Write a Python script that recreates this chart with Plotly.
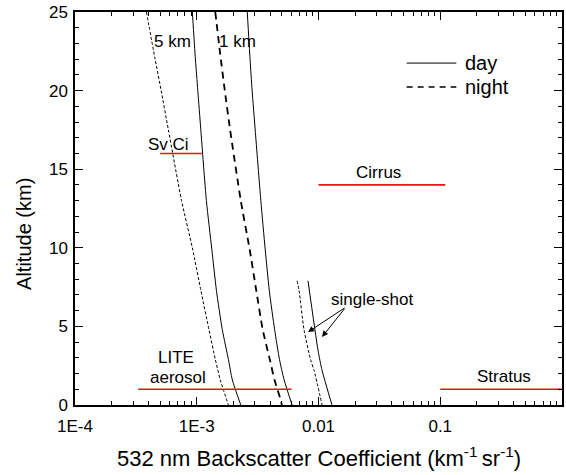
import plotly.graph_objects as go

# ---- data (altitude km, backscatter km^-1 sr^-1) ----
alt_5km_night = [25, 22, 20, 17.5, 13, 10, 7.3, 4.8, 2.9, 1.6, 0]
val_5km_night = [3.86e-4, 4.55e-4, 5.10e-4, 5.85e-4, 7.5e-4, 9.2e-4, 1.08e-3, 1.26e-3, 1.42e-3, 1.56e-3, 1.82e-3]

alt_5km_day = [25, 22, 20, 17.5, 13, 9.9, 7.3, 4.8, 2.9, 1.6, 0]
val_5km_day = [9.2e-4, 9.75e-4, 1.02e-3, 1.08e-3, 1.20e-3, 1.33e-3, 1.45e-3, 1.62e-3, 1.82e-3, 1.96e-3, 2.30e-3]

alt_1km_night = [25, 22.3, 20, 17.5, 13, 9.9, 7.3, 4.8, 2.9, 1.6, 0.3, 0]
val_1km_night = [1.42e-3, 1.56e-3, 1.70e-3, 1.88e-3, 2.30e-3, 2.72e-3, 3.08e-3, 3.48e-3, 3.98e-3, 4.35e-3, 4.90e-3, 5.0e-3]

alt_1km_day = [25, 22, 20, 17.5, 13, 9.9, 7.3, 4.8, 2.9, 1.6, 0]
val_1km_day = [2.60e-3, 2.74e-3, 2.85e-3, 3.02e-3, 3.36e-3, 3.65e-3, 3.94e-3, 4.36e-3, 4.78e-3, 5.22e-3, 6.07e-3]

alt_ss_night = [7.9, 7.3, 4.8, 2.9, 2.2, 0]
val_ss_night = [6.67e-3, 6.92e-3, 7.60e-3, 8.6e-3, 9.2e-3, 1.07e-2]

alt_ss_day = [7.9, 3.5, 2.2, 0]
val_ss_day = [8.2e-3, 9.9e-3, 1.07e-2, 1.29e-2]

# cloud/aerosol reference segments: name, altitude, x start, x end
seg_names = ["Sv Ci", "Cirrus", "LITE aerosol", "Stratus"]
seg_alt = [16, 14, 1, 1]
seg_x0 = [5.0e-4, 0.01, 3.3e-4, 0.1]
seg_x1 = [1.1e-3, 0.11, 6.0e-3, 1.0]

xtick_vals = [1e-4, 1e-3, 1e-2, 1e-1, 1]
xtick_text = ["1E-4", "1E-3", "0.01", "0.1", "1"]
ytick_vals = [0, 5, 10, 15, 20, 25]

FONT = "Liberation Sans, Arial, sans-serif"

fig = go.Figure()

def add_line(x, y, dash, width=1.0):
    fig.add_trace(go.Scatter(x=x, y=y, mode="lines", showlegend=False,
                             line=dict(color="black", width=width, dash=dash, shape="spline",
                                       smoothing=0.6)))

add_line(val_5km_night, alt_5km_night, "3px,2px", 1)
add_line(val_5km_day, alt_5km_day, "solid", 1)
add_line(val_1km_night, alt_1km_night, "7px,5px", 1.8)
add_line(val_1km_day, alt_1km_day, "solid", 1)
add_line(val_ss_night, alt_ss_night, "3px,2px", 1)
add_line(val_ss_day, alt_ss_day, "solid", 1)

for n, a, x0, x1 in zip(seg_names, seg_alt, seg_x0, seg_x1):
    fig.add_trace(go.Scatter(x=[x0, x1], y=[a, a], mode="lines", showlegend=False,
                             line=dict(color="#ee1111", width=1.6)))

ann_font = dict(family=FONT, size=17, color="black")
labels = [
    ("5 km", -3.198, 23.1),
    ("1 km", -2.667, 23.1),
    ("Sv Ci", -3.231, 16.55),
    ("Cirrus", -1.505, 14.82),
    ("single-shot", -1.562, 6.68),
    ("LITE", -3.174, 3.05),
    ("aerosol", -3.157, 1.72),
    ("Stratus", -0.474, 1.84),
]
for t, x, y in labels:
    fig.add_annotation(x=x, y=y, text=t, showarrow=False, font=ann_font,
                       xanchor="center", yanchor="middle")

# arrows for single-shot
for hx, hy in [(-2.086, 4.64), (-1.971, 4.33)]:
    fig.add_annotation(x=hx, y=hy, ax=-1.775, ay=6.23, axref="x", ayref="y",
                       xref="x", yref="y", text="", showarrow=True,
                       arrowhead=2, arrowsize=1.2, arrowwidth=1, arrowcolor="black")

# legend (drawn)
fig.add_shape(type="line", xref="paper", yref="paper", x0=0.681, x1=0.783, y0=0.870, y1=0.870,
              line=dict(color="black", width=1))
fig.add_shape(type="line", xref="paper", yref="paper", x0=0.681, x1=0.783, y0=0.809, y1=0.809,
              line=dict(color="black", width=1.5, dash="6px,5px"))
fig.add_annotation(xref="paper", yref="paper", x=0.797, y=0.870, text="day", showarrow=False,
                   xanchor="left", yanchor="middle", font=dict(family=FONT, size=20, color="black"))
fig.add_annotation(xref="paper", yref="paper", x=0.797, y=0.809, text="night", showarrow=False,
                   xanchor="left", yanchor="middle", font=dict(family=FONT, size=20, color="black"))

# axis titles
fig.add_annotation(xref="paper", yref="paper", x=0.5, y=-0.132, yanchor="middle",
                   text="532 nm Backscatter Coefficient (km<sup>-1 </sup>sr<sup>-1</sup>)",
                   showarrow=False, font=dict(family=FONT, size=22, color="black"))
fig.add_annotation(xref="paper", yref="paper", x=-0.105, y=0.435, textangle=-90,
                   xanchor="center", yanchor="middle",
                   text="Altitude (km)", showarrow=False, font=dict(family=FONT, size=20, color="black"))

fig.update_xaxes(type="log", range=[-4, 0], tickvals=xtick_vals, ticktext=xtick_text,
                 ticks="inside", ticklen=8, tickwidth=1, tickcolor="black",
                 showline=True, linecolor="black", linewidth=1.5, mirror="ticks",
                 showgrid=False, zeroline=False, ticklabelstandoff=5,
                 tickfont=dict(family=FONT, size=17, color="black"),
                 minor=dict(ticks="inside", ticklen=4, tickwidth=1, tickcolor="black",
                            dtick="D1", showgrid=False))
fig.update_yaxes(range=[0, 25], tickvals=ytick_vals,
                 ticks="inside", ticklen=8, tickwidth=1, tickcolor="black",
                 showline=True, linecolor="black", linewidth=1.5, mirror="ticks",
                 showgrid=False, zeroline=False, ticklabelstandoff=2,
                 tickfont=dict(family=FONT, size=17, color="black"),
                 minor=dict(ticks="inside", ticklen=4, tickwidth=1, tickcolor="black",
                            dtick=1, showgrid=False))

fig.update_layout(width=566, height=475, margin=dict(l=75, r=2, t=12, b=70),
                  paper_bgcolor="white", plot_bgcolor="white", showlegend=False)

fig.write_html("out.html")
